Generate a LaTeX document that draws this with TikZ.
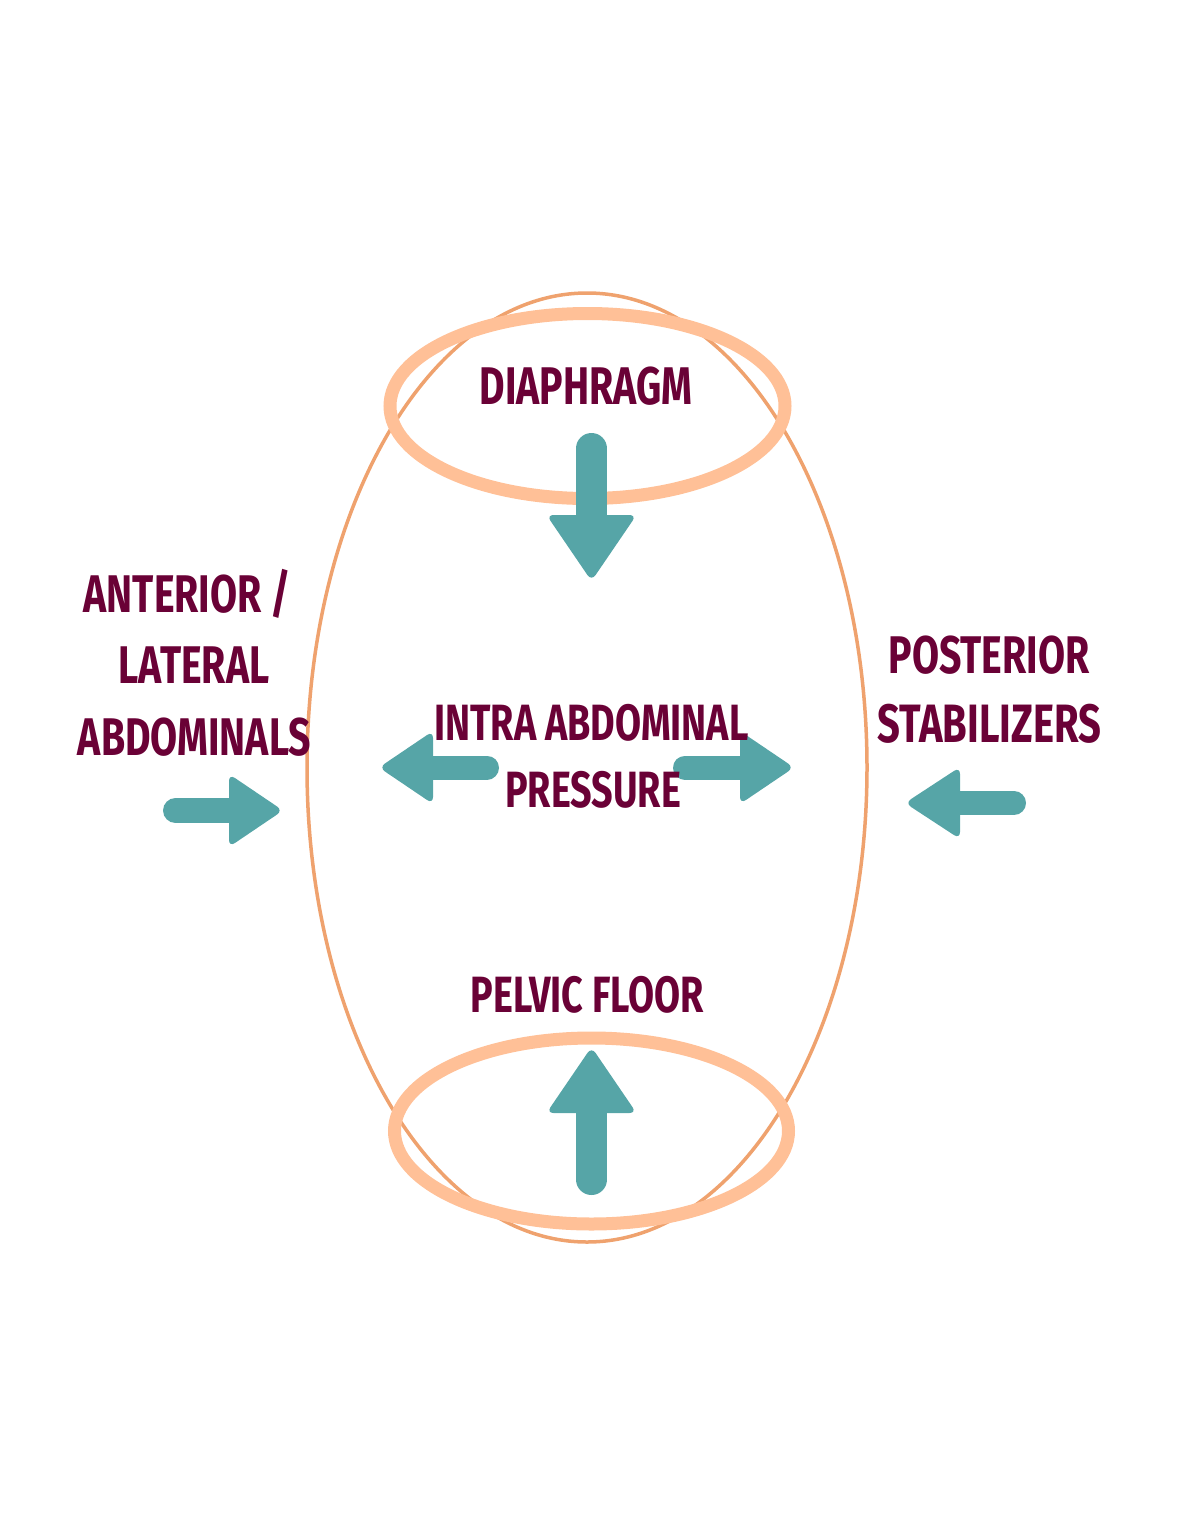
\documentclass[tikz,border=0pt]{standalone}
\usepackage{fontspec}
\newfontfamily\labelfont{Fira Sans}[FakeStretch=0.74]
\usetikzlibrary{calc}
\definecolor{wine}{RGB}{106,1,54}
\definecolor{arrowteal}{RGB}{86,165,167}
\definecolor{shellorange}{RGB}{239,162,110}
\definecolor{ringpeach}{RGB}{255,192,151}

\begin{document}
\begin{tikzpicture}[x=1pt, y=-1pt,
	muscle/.style = {text=wine, inner sep=0pt, anchor=base,
	                 font=\labelfont\bfseries\fontsize{53}{64}\selectfont},
	shell/.style = {draw=shellorange, line width=3.5},
	ring/.style = {draw=ringpeach, line width=13},
	% push: head length, head half width, shaft length, shaft width
	pics/push/.style n args={4}{code={
		\draw[arrowteal, line width=#4, line cap=round] (-#1+2,0) -- (-#1-#3+#4/2,0);
		\fill[arrowteal, rounded corners=7] (-#1,0) -- (-#1,#2+1) -- (3,0) -- (-#1,-#2-1) -- cycle;
	}}
	]
\useasboundingbox (0,0) rectangle (1187,1536);

\draw[shell] (587,767.5) ellipse [x radius=280, y radius=474.5];
\draw[ring] (587.5,406) ellipse [x radius=197.5, y radius=92.5];
\draw[ring] (591.5,1131) ellipse [x radius=197, y radius=93];

\pic[rotate=-90] at (591.5,578) {push={63}{44}{82}{31}};
\pic[rotate=90] at (591.5,1050) {push={63}{44}{82}{31}};
\pic[rotate=180] at (382,767.5) {push={51}{35.5}{66}{24}};
\pic at (791,767.5) {push={51}{35.5}{67}{24}};
\pic at (280,810.5) {push={51}{35.5}{66}{25}};
\pic[rotate=180] at (908,803) {push={52}{35}{66}{24}};

\node[muscle] (diaphragm) at (586,404) {DIAPHRAGM};
\node[muscle, font=\labelfont\bfseries\fontsize{51}{64}\selectfont] (intra) at (591.5,740) {INTRA ABDOMINAL};
\node[muscle, font=\labelfont\bfseries\fontsize{51}{64}\selectfont] (pressure) at (593,807) {PRESSURE};
\node[muscle] (anterior) at (187.5,612) {ANTERIOR /};
\node[muscle] (lateral) at (194,683) {LATERAL};
\node[muscle] (abdominals) at (194.5,755) {ABDOMINALS};
\node[muscle] (posterior) at (989,673) {POSTERIOR};
\node[muscle, font=\labelfont\bfseries\fontsize{54}{64}\selectfont] (stabilizers) at (989.5,742) {STABILIZERS};
\node[muscle, font=\labelfont\bfseries\fontsize{51}{64}\selectfont] (pelvic) at (587.5,1012) {PELVIC FLOOR};
\end{tikzpicture}
\end{document}
